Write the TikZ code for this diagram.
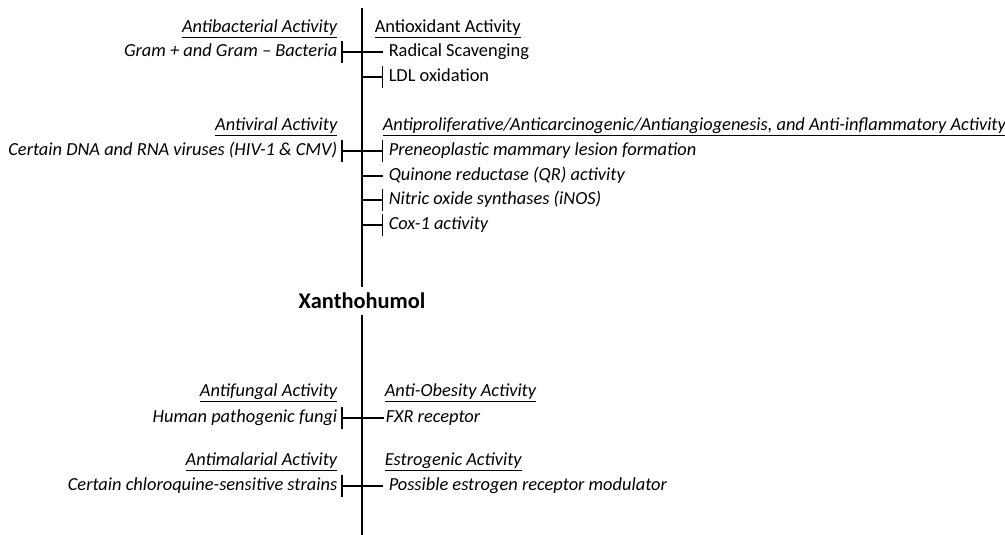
\documentclass[tikz,border=0pt]{standalone}
\usepackage{fontspec}
\setmainfont{Carlito}
\usetikzlibrary{arrows.meta}

\begin{document}
\begin{tikzpicture}[x=1pt, y=-1pt, line width=1.5pt,
    txt/.style={inner ysep=0pt, text height=13pt, text depth=4pt, font=\fontsize{18.4}{22}\selectfont},
    ittxt/.style={font=\itshape\fontsize{18.4}{22}\selectfont},
    lefttxt/.style={txt, ittxt, anchor=east, inner xsep=3pt},
    righttxt/.style={txt, anchor=west, inner xsep=5pt},
    barl/.style={{Bar[width=22pt]}-},
    barr/.style={-{Bar[width=22pt]}},
    barlr/.style={{Bar[width=22pt]}-{Bar[width=22pt]}}]

    % Fix the picture size
    \useasboundingbox (0,0) rectangle (1005,535);

    % Central axis and compound name
    \coordinate (axtop) at (362,8);
    \coordinate (axbot) at (362,535);
    \node[inner xsep=0pt, inner ysep=5pt, font=\bfseries\fontsize{22.4}{26}\selectfont] (xan) at (362,301) {Xanthohumol};
    \draw (axtop) -- (xan.north);
    \draw (xan.south) -- (axbot);

    % Left side: headers
    \node[lefttxt] (abact) at (341,28) {\underline{Antibacterial Activity}};
    \node[lefttxt] (avir) at (341,126) {\underline{Antiviral Activity}};
    \node[lefttxt] (afung) at (341,392) {\underline{Antifungal Activity}};
    \node[lefttxt] (amal) at (341,461) {\underline{Antimalarial Activity}};

    % Left side: targets
    \node[lefttxt] (gram) at (341,52) {Gram + and Gram – Bacteria};
    \node[lefttxt] (dna) at (341,151) {Certain DNA and RNA viruses (HIV-1 \& CMV)};
    \node[lefttxt] (fungi) at (341,418) {Human pathogenic fungi};
    \node[lefttxt] (chloro) at (341,486) {Certain chloroquine-sensitive strains};

    % Right side: headers
    \node[righttxt, inner xsep=0pt] (aox) at (374,28) {\underline{Antioxidant Activity}};
    \node[righttxt, ittxt, inner xsep=0pt] (aprol) at (382,126) {\underline{Antiproliferative/Anticarcinogenic/Antiangiogenesis, and Anti-inflammatory Activity}};
    \node[righttxt, ittxt, inner xsep=0pt] (aobes) at (384,392) {\underline{Anti-Obesity Activity}};
    \node[righttxt, ittxt, inner xsep=0pt] (estro) at (384,461) {\underline{Estrogenic Activity}};

    % Right side: targets
    \node[righttxt] (rad) at (383,52) {Radical Scavenging};
    \node[righttxt] (ldl) at (383,77) {LDL oxidation};
    \node[righttxt, ittxt] (prene) at (383,151) {Preneoplastic mammary lesion formation};
    \node[righttxt, ittxt] (quin) at (383,176) {Quinone reductase (QR) activity};
    \node[righttxt, ittxt] (nitric) at (383,200) {Nitric oxide synthases (iNOS)};
    \node[righttxt, ittxt] (cox) at (383,225) {Cox-1 activity};
    \node[righttxt, ittxt, inner xsep=1pt] (fxr) at (384,418) {FXR receptor};
    \node[righttxt, ittxt] (poss) at (383,486) {Possible estrogen receptor modulator};

    % Connectors across the axis
    \draw[barl] (gram.east) -- (rad.west);
    \draw[barr] (axtop |- ldl.west) -- (ldl.west);
    \draw[barlr] (dna.east) -- (prene.west);
    \draw (axtop |- quin.west) -- (quin.west);
    \draw[barr] (axtop |- nitric.west) -- (nitric.west);
    \draw[barr] (axtop |- cox.west) -- (cox.west);
    \draw[barl] (fungi.east) -- (fxr.west);
    \draw[barl] (chloro.east) -- (poss.west);

\end{tikzpicture}
\end{document}
